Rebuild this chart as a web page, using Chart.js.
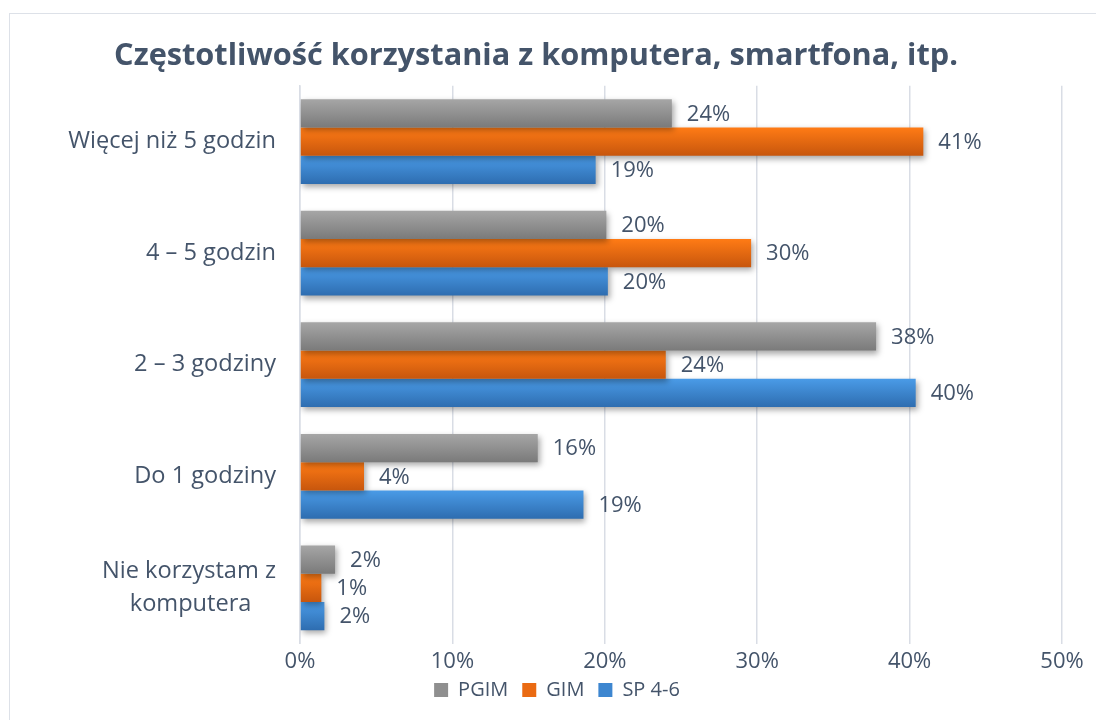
<!DOCTYPE html>
<html>
<head>
<meta charset="utf-8">
<script src="https://cdn.jsdelivr.net/npm/chart.js@4/dist/chart.umd.min.js"></script>
<style>
  html, body { margin: 0; padding: 0; background: #fff; }
  #ramka { position: absolute; left: 9px; top: 13px; width: 1100px; height: 720px; border: 1px solid #dde1e8; box-sizing: border-box; }
  #wykres { position: absolute; left: 0; top: 0; }
</style>
</head>
<body>
<div id="ramka"></div>
<canvas id="wykres" width="1096" height="720"></canvas>
<script>
var kategorie = ['Więcej niż 5 godzin', '4 – 5 godzin', '2 – 3 godziny', 'Do 1 godziny', ['Nie korzystam z', 'komputera    ']];
var pgim = [24.4, 20.1, 37.8, 15.6, 2.3];
var gim = [40.9, 29.6, 24.0, 4.2, 1.4];
var sp46 = [19.4, 20.2, 40.4, 18.6, 1.6];
var tytul = 'Częstotliwość korzystania z komputera, smartfona, itp.';

var kolorTekstu = '#44546a';
var czcionka = "'Open Sans', sans-serif";
var udzialKategorii = 0.76;

// gradient w pionie dla kazdego slupka osobno
function gradient(gora, dol) {
    return function (c) {
        var chart = c.chart;
        var y = chart.scales && chart.scales.y;
        if (!chart.chartArea || !y || c.type !== 'data') return dol;
        var rozmiar = (y.bottom - y.top) / kategorie.length;
        var grubosc = rozmiar * udzialKategorii / 3;
        var start = y.getPixelForValue(c.dataIndex) - 1.5 * grubosc + c.datasetIndex * grubosc;
        var g = chart.ctx.createLinearGradient(0, start, 0, start + grubosc);
        g.addColorStop(0, gora);
        g.addColorStop(1, dol);
        return g;
    };
}

var cienIEtykiety = {
    id: 'cienIEtykiety',
    afterLayout: function (chart) {
        // legenda wyzej i w prawo, jak w oryginale
        var l = chart.legend;
        l.top -= 14; l.bottom -= 14;
        l.left += 21; l.right += 21;
    },
    beforeDatasetsDraw: function (chart) {
        var ctx = chart.ctx;
        ctx.save();
        ctx.shadowColor = 'rgba(0,0,0,0.35)';
        ctx.shadowBlur = 6;
        ctx.shadowOffsetX = 2;
        ctx.shadowOffsetY = 3;
    },
    afterDatasetsDraw: function (chart) {
        var ctx = chart.ctx;
        ctx.restore();
        ctx.save();
        ctx.font = '22px ' + czcionka;
        ctx.fillStyle = kolorTekstu;
        ctx.textAlign = 'left';
        ctx.textBaseline = 'middle';
        chart.data.datasets.forEach(function (ds, i) {
            chart.getDatasetMeta(i).data.forEach(function (el, j) {
                ctx.fillText(Math.round(ds.data[j]) + '%', el.x + 15, el.y + 1);
            });
        });
        ctx.restore();
    }
};

var ctx = document.getElementById('wykres').getContext('2d');
var wykres = new Chart(ctx, {
    type: 'bar',
    data: {
        labels: kategorie,
        datasets: [{
            label: 'PGIM',
            data: pgim,
            backgroundColor: gradient('#a6a6a6', '#7a7a7a'),
            legendColor: '#8f8f8f'
        }, {
            label: 'GIM',
            data: gim,
            backgroundColor: gradient('#ff7b15', '#c7560d'),
            legendColor: '#ea6a12'
        }, {
            label: 'SP 4-6',
            data: sp46,
            backgroundColor: gradient('#4a9be7', '#2e6db0'),
            legendColor: '#3d86d0'
        }]
    },
    options: {
        indexAxis: 'y',
        responsive: false,
        animation: false,
        events: [],
        categoryPercentage: udzialKategorii,
        barPercentage: 1,
        layout: { padding: { left: 10, right: 34, top: 0, bottom: -4 } },
        scales: {
            x: {
                min: 0,
                max: 50,
                ticks: {
                    stepSize: 10,
                    color: kolorTekstu,
                    font: { family: czcionka, size: 22 },
                    padding: 5,
                    callback: function (v) { return v + '%'; }
                },
                grid: { color: '#d9dde5', lineWidth: 1.5, drawTicks: false },
                border: { display: false }
            },
            y: {
                ticks: {
                    color: kolorTekstu,
                    font: { family: czcionka, size: 23.6, lineHeight: 1.4 },
                    padding: 24
                },
                grid: { display: false, drawTicks: false },
                border: { color: '#d9dde5', width: 1.5 },
                afterFit: function (s) { s.width = 290; }
            }
        },
        plugins: {
            title: {
                display: true,
                text: tytul,
                color: kolorTekstu,
                font: { family: czcionka, size: 30.7, weight: 'bold' },
                padding: { top: 38, bottom: 11 }
            },
            legend: {
                position: 'bottom',
                labels: {
                    color: kolorTekstu,
                    font: { family: czcionka, size: 20 },
                    boxWidth: 14,
                    boxHeight: 14,
                    padding: 14,
                    generateLabels: function (chart) {
                        return chart.data.datasets.map(function (ds, i) {
                            return {
                                text: ds.label,
                                fillStyle: ds.legendColor,
                                strokeStyle: ds.legendColor,
                                lineWidth: 0,
                                fontColor: kolorTekstu,
                                datasetIndex: i
                            };
                        });
                    }
                }
            },
            tooltip: { enabled: false }
        }
    },
    plugins: [cienIEtykiety]
});
</script>
</body>
</html>
